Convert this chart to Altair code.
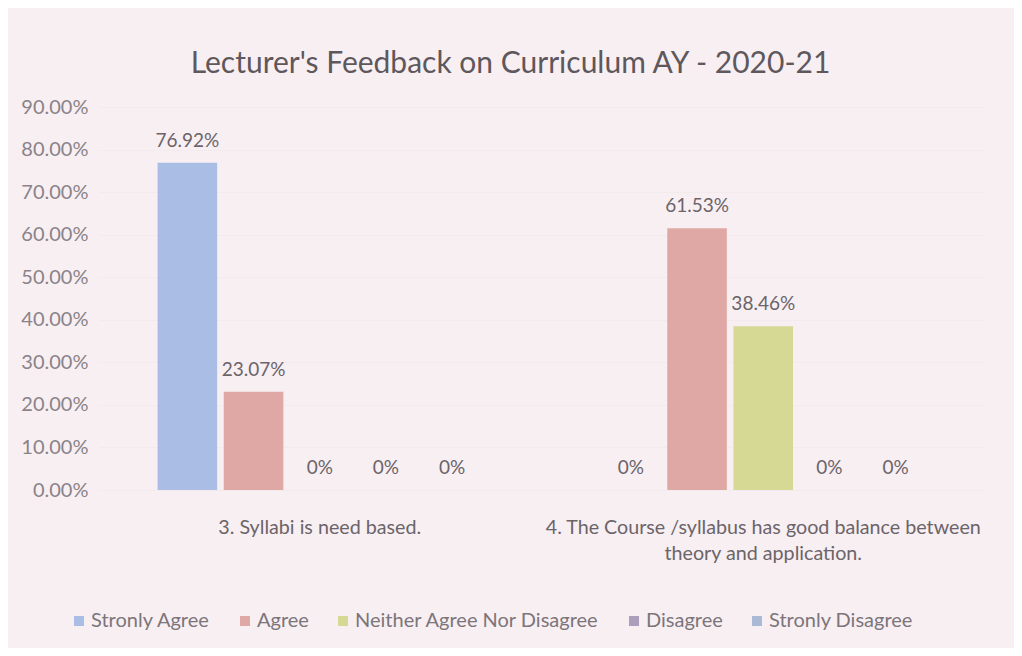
import altair as alt
import pandas as pd

questions = ["3. Syllabi is need based.",
             "4. The Course /syllabus has good balance between|theory and application."]
series = ["Stronly Agree", "Agree", "Neither Agree Nor Disagree", "Disagree", "Stronly Disagree"]
values_q3 = [76.92, 23.07, 0, 0, 0]
values_q4 = [0, 61.53, 38.46, 0, 0]
labels_q3 = ["76.92%", "23.07%", "0%", "0%", "0%"]
labels_q4 = ["0%", "61.53%", "38.46%", "0%", "0%"]
colors = ["#aabde4", "#e0a8a4", "#d5d993", "#ab9fbb", "#a9b9d6"]

rows = []
for q, vals, labs in [(questions[0], values_q3, labels_q3), (questions[1], values_q4, labels_q4)]:
    for s, v, l in zip(series, vals, labs):
        rows.append({"q": q, "s": s, "v": v / 100.0, "lab": l})
df = pd.DataFrame(rows)

FONT = "Lato"
TXT = "#6b6469"

x = alt.X("q:N", sort=questions, title=None,
          scale=alt.Scale(paddingInner=0, paddingOuter=0),
          axis=alt.Axis(labelExpr="split(datum.label, '|')", labelAngle=0,
                        labelFontSize=19.7, labelColor=TXT, labelFont=FONT,
                        labelLimit=700, labelPadding=27, domain=False, ticks=False,
                        labelLineHeight=26))
xo = alt.XOffset("s:N", sort=series, scale=alt.Scale(paddingInner=0.1, paddingOuter=0.9))
y = alt.Y("v:Q", title=None,
          scale=alt.Scale(domain=[0, 0.9]),
          axis=alt.Axis(format=".2%", values=[i / 10 for i in range(10)],
                        labelFontSize=20, labelColor="#8a8388", labelFont=FONT,
                        labelPadding=10, domain=False, ticks=False,
                        grid=True, gridColor="#f3eaee", gridWidth=1))
color = alt.Color("s:N", sort=series, title=None,
                  scale=alt.Scale(domain=series, range=colors),
                  legend=alt.Legend(orient="none", legendX=-29, legendY=504,
                                    direction="horizontal", symbolType="square",
                                    symbolSize=100, labelFontSize=20, labelColor="#7c757a",
                                    labelFont=FONT, columnPadding=24, labelLimit=400,
                                    labelOffset=2, symbolStrokeWidth=0))

bars = alt.Chart(df).mark_bar().encode(x=x, xOffset=xo, y=y, color=color)
text = alt.Chart(df).mark_text(baseline="bottom", dy=-12, fontSize=19, color=TXT, font=FONT).encode(
    x=alt.X("q:N", sort=questions), xOffset=alt.XOffset("s:N", sort=series), y="v:Q", text="lab:N")

chart = (bars + text).properties(
    width=887, height=383,
    padding={"left": 90, "top": 99, "right": 29, "bottom": 158},
    autosize=alt.AutoSizeParams(type="none"),
    background="#f8eff3",
    title=alt.TitleParams("Lecturer's Feedback on Curriculum AY - 2020-21",
                          fontSize=30, font=FONT, fontWeight="normal", color="#5e585c",
                          anchor="middle", dx=-31, offset=18),
).configure_view(stroke=None)

chart.save("out.html", embed_options={"renderer": "svg", "actions": False})
